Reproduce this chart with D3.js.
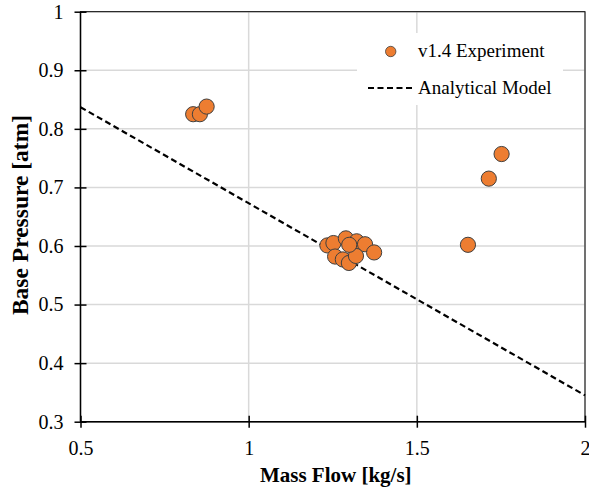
<!DOCTYPE html>
<html>
<head>
<meta charset="utf-8">
<script src="https://cdn.jsdelivr.net/npm/d3@7"></script>
<style>
  body { margin: 0; background: #fff; }
  .grid line { stroke: #d9d9d9; stroke-width: 1.5; }
  .axis path, .axis line { stroke: #000; stroke-width: 1.5; }
</style>
</head>
<body>
<svg width="589" height="490"></svg>
<script>
// experimental points (mass flow kg/s, base pressure atm)
const expFlow = [0.835, 0.855, 0.875, 1.652, 1.714, 1.752,
  1.234, 1.252, 1.289, 1.321, 1.346, 1.373, 1.257, 1.280, 1.298, 1.319, 1.299];
const expPressure = [0.825, 0.825, 0.838, 0.602, 0.715, 0.757,
  0.601, 0.605, 0.613, 0.608, 0.603, 0.589, 0.582, 0.577, 0.571, 0.583, 0.602];
// analytical model end points
const modelFlow = [0.5, 2];
const modelPressure = [0.837, 0.345];
const xTicks = [0.5, 1, 1.5, 2];
const yTicks = [0.3, 0.4, 0.5, 0.6, 0.7, 0.8, 0.9, 1];

const serif = "Liberation Serif";
const svg = d3.select("svg");
const pL = 80.5, pR = 585, pT = 11.7, pB = 421.7;

const x = d3.scaleLinear().domain([0.5, 2]).range([pL, pR]);
const y = d3.scaleLinear().domain([0.3, 1]).range([pB, pT]);

// grid
const grid = svg.append("g").attr("class", "grid");
grid.selectAll(".gx").data(xTicks).enter().append("line")
  .attr("x1", d => x(d)).attr("x2", d => x(d)).attr("y1", pT).attr("y2", pB);
grid.selectAll(".gy").data(yTicks).enter().append("line")
  .attr("y1", d => y(d)).attr("y2", d => y(d)).attr("x1", pL).attr("x2", pR);

// frame
svg.append("rect")
  .attr("x", pL).attr("y", pT)
  .attr("width", pR - pL).attr("height", pB - pT)
  .attr("fill", "none").attr("stroke", "#000").attr("stroke-width", 1);

// model line
svg.append("path")
  .datum(modelFlow.map((f, i) => [f, modelPressure[i]]))
  .attr("d", d3.line().x(d => x(d[0])).y(d => y(d[1])))
  .attr("fill", "none").attr("stroke", "#000")
  .attr("stroke-width", 2.2).attr("stroke-dasharray", "6,3.5");

// legend box (covers grid)
const lg = svg.append("g").attr("font-family", serif).attr("font-size", 19);
lg.append("rect").attr("x", 357).attr("y", 33).attr("width", 206).attr("height", 72).attr("fill", "#fff");
lg.append("circle").attr("cx", 390.7).attr("cy", 51.5).attr("r", 5.2)
  .attr("fill", "#ED7D31").attr("stroke", "#404040").attr("stroke-width", 0.8);
lg.append("text").attr("x", 418).attr("y", 57).text("v1.4 Experiment");
lg.append("line").attr("x1", 368).attr("x2", 414).attr("y1", 88).attr("y2", 88)
  .attr("stroke", "#000").attr("stroke-width", 2.2).attr("stroke-dasharray", "6,3.5");
lg.append("text").attr("x", 418).attr("y", 93.5).text("Analytical Model");

// points
svg.append("g").selectAll("circle")
  .data(expFlow.map((f, i) => [f, expPressure[i]]))
  .enter().append("circle")
  .attr("cx", d => x(d[0])).attr("cy", d => y(d[1])).attr("r", 7.6)
  .attr("fill", "#ED7D31").attr("stroke", "#404040").attr("stroke-width", 1);

// axes
const xAxis = svg.append("g").attr("class", "axis")
  .attr("transform", `translate(0,${pB})`)
  .call(d3.axisBottom(x).tickValues(xTicks).tickFormat(d3.format("")).tickSize(6).tickPadding(13));
xAxis.selectAll(".tick line").attr("y1", -6).attr("y2", 6);
xAxis.select(".domain").attr("d", `M${pL},0H${pR}`);

const yAxis = svg.append("g").attr("class", "axis")
  .attr("transform", `translate(${pL},0)`)
  .call(d3.axisLeft(y).tickValues(yTicks).tickFormat(d3.format("")).tickSize(6).tickPadding(11));
yAxis.selectAll(".tick line").attr("x1", -6).attr("x2", 6);
yAxis.select(".domain").attr("d", `M0,${pT}V${pB}`);

svg.selectAll(".axis").attr("font-family", serif).attr("font-size", 20);

// titles
svg.append("text")
  .attr("font-family", serif).attr("font-size", 21).attr("font-weight", "bold")
  .attr("x", (pL + pR) / 2 + 3).attr("y", 482)
  .attr("text-anchor", "middle").text("Mass Flow [kg/s]");
svg.append("text")
  .attr("font-family", serif).attr("font-size", 23.5).attr("font-weight", "bold")
  .attr("transform", "translate(28,215) rotate(-90)")
  .attr("text-anchor", "middle")
  .text("Base Pressure [atm]");
</script>
</body>
</html>
